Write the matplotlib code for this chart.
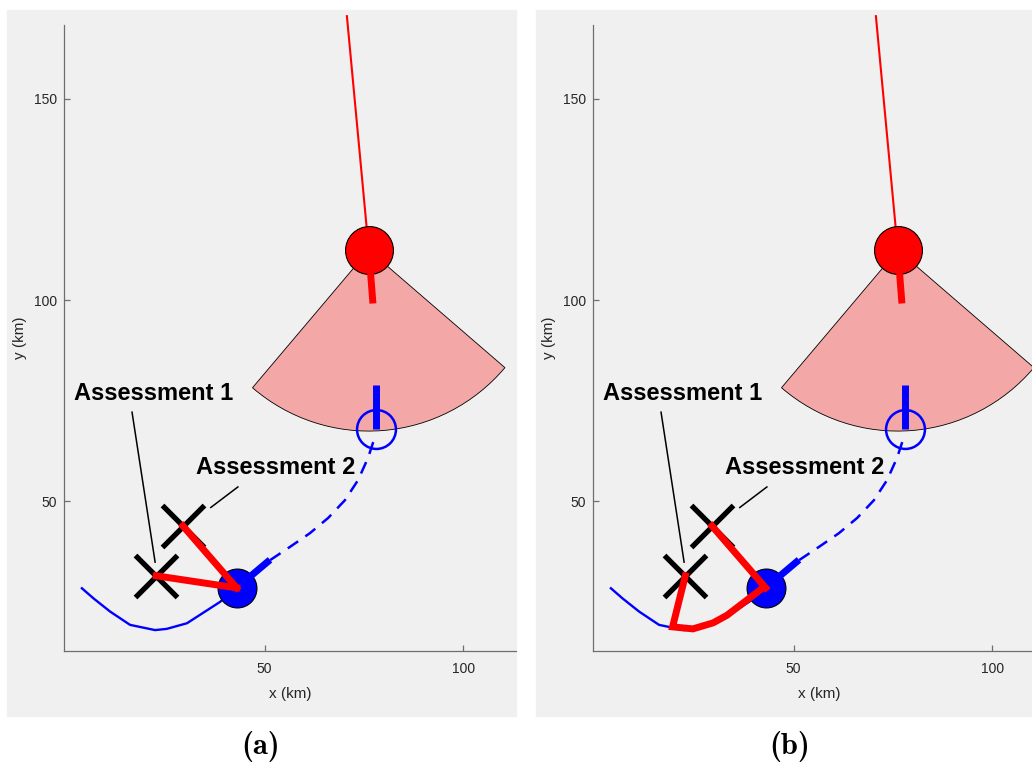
import matplotlib.pyplot as plt
import numpy as np
from matplotlib.patches import Wedge, Rectangle

# --- data (km) ---
# intruder (red) track and state
red_track_x = [70.7, 76.2]
red_track_y = [170.6, 112.4]
red_pos = (76.2, 112.4)
red_heading = -85.5   # deg
red_head_len = 13.3
sector_radius = 45.0
sector_half = 45.0

# own ship (blue)
blue_pos = (43.0, 28.4)
blue_heading = 39.8
blue_head_len = 10.9
hist_x = [4.1, 7.0, 11.2, 16.2, 22.5, 25.4, 30.5, 38.8, 43.0]
hist_y = [28.3, 25.8, 22.5, 19.2, 17.9, 18.2, 19.6, 24.9, 28.4]
plan_x = [51.4, 56.4, 61.4, 66.0, 70.2, 73.5, 76.0, 77.6]
plan_y = [35.3, 38.6, 42.0, 45.8, 50.2, 55.2, 60.7, 65.5]

# goal (open circle)
goal_pos = (77.9, 67.9)
goal_heading = 90.0
goal_head_len = 11.0

# assessment points
assess_x = [22.8, 29.5]
assess_y = [31.4, 43.8]
assess_labels = ["Assessment 1", "Assessment 2"]
label_pos = [(22.2, 76.7), (52.9, 58.3)]
label_line = [((16.7, 72.1), (22.5, 34.8)), ((43.3, 53.5), (36.5, 48.4))]

# red routes back to own ship, panel (a): straight lines
routes_a = [
    ([22.8, 43.0], [31.4, 28.4]),
    ([29.5, 43.0], [43.8, 28.4]),
]
# panel (b): route 1 follows the past track
routes_b = [
    ([22.8, 19.6, 24.7, 29.8, 33.3, 42.3], [31.4, 18.7, 18.2, 19.7, 21.6, 28.4]),
    ([29.5, 43.0], [43.8, 28.4]),
]

xlim = (-0.4, 113.2)
ylim = (12.7, 168.4)
grey = "#f0f0f0"
axcol = "#6e6e6e"
txtcol = "#262626"


def tip(pos, ang, length):
    a = np.deg2rad(ang)
    return [pos[0], pos[0] + length * np.cos(a)], [pos[1], pos[1] + length * np.sin(a)]


def draw_panel(ax, routes):
    ax.set_facecolor("none")
    # sensor sector
    ax.add_patch(Wedge(red_pos, sector_radius, red_heading - sector_half,
                       red_heading + sector_half, facecolor=(1, 0, 0, 0.3),
                       edgecolor="black", linewidth=0.6, zorder=1))
    # red track
    ax.plot(red_track_x, red_track_y, color="red", lw=1.5, clip_on=False, zorder=2)
    ax.plot(*red_pos, "o", ms=34.5, mfc="red", mec="black", mew=0.8, zorder=3)
    hx, hy = tip(red_pos, red_heading, red_head_len)
    ax.plot(hx, hy, color="red", lw=5, solid_capstyle="butt", zorder=4)

    # blue history and plan
    ax.plot(hist_x, hist_y, color="blue", lw=1.7, zorder=2)
    ax.plot(plan_x, plan_y, color="blue", lw=1.8, ls=(0, (5, 3.5)), zorder=2)
    ax.plot(*goal_pos, "o", ms=28, mfc="none", mec="blue", mew=1.8, zorder=3)
    gx, gy = tip(goal_pos, goal_heading, goal_head_len)
    ax.plot(gx, gy, color="blue", lw=5, solid_capstyle="butt", zorder=4)

    ax.plot(*blue_pos, "o", ms=28, mfc="blue", mec="black", mew=0.8, zorder=3)
    bx, by = tip(blue_pos, blue_heading, blue_head_len)
    ax.plot(bx, by, color="blue", lw=5, solid_capstyle="butt", zorder=4)

    # assessment crosses and routes
    ax.plot(assess_x, assess_y, "x", ms=30, mec="black", mew=3.8, zorder=5)
    for rx, ry in routes:
        ax.plot(rx, ry, color="red", lw=5, solid_joinstyle="miter", zorder=6)

    for lab, (tx, ty), (p0, p1) in zip(assess_labels, label_pos, label_line):
        ax.text(tx, ty, lab, ha="center", va="center", fontsize=17,
                fontweight="bold", family="Liberation Sans", zorder=7)
        ax.plot([p0[0], p1[0]], [p0[1], p1[1]], color="black", lw=1.1, zorder=7)

    ax.set_xlim(*xlim)
    ax.set_ylim(*ylim)
    ax.set_xticks([50, 100])
    ax.set_yticks([50, 100, 150])
    for s in ["top", "right"]:
        ax.spines[s].set_visible(False)
    for s in ["left", "bottom"]:
        ax.spines[s].set_color(axcol)
        ax.spines[s].set_linewidth(0.9)
    ax.tick_params(direction="in", length=4, width=0.9, color=axcol,
                   labelcolor=txtcol, labelsize=10)
    ax.tick_params(axis="y", pad=5)
    ax.tick_params(axis="x", pad=8)
    ax.set_xlabel("x (km)", fontsize=11, color=txtcol, labelpad=8)
    ax.set_ylabel("y (km)", fontsize=11, color=txtcol, labelpad=5)
    for t in ax.get_xticklabels() + ax.get_yticklabels():
        t.set_family("Liberation Sans")
    ax.xaxis.label.set_family("Liberation Sans")
    ax.yaxis.label.set_family("Liberation Sans")


W, H = 1032, 763
fig = plt.figure(figsize=(W / 100, H / 100), dpi=100, facecolor="white")

# grey panel backgrounds
fig.patches.append(Rectangle((7 / W, 1 - 716 / H), 509 / W, 706 / H,
                             transform=fig.transFigure, color=grey, zorder=-5))
fig.patches.append(Rectangle((536 / W, 1 - 716 / H), 509 / W, 706 / H,
                             transform=fig.transFigure, color=grey, zorder=-5))

ax_a = fig.add_axes([64 / W, 1 - 651 / H, 452 / W, 626 / H])
ax_b = fig.add_axes([593 / W, 1 - 651 / H, 452 / W, 626 / H])
draw_panel(ax_a, routes_a)
draw_panel(ax_b, routes_b)

fig.text(261 / W, 1 - 746 / H, "(a)", ha="center", va="center", fontsize=22,
         family="cmb10")
fig.text(790 / W, 1 - 746 / H, "(b)", ha="center", va="center", fontsize=22,
         family="cmb10")

fig.savefig("out.png", dpi=100, facecolor="white")
